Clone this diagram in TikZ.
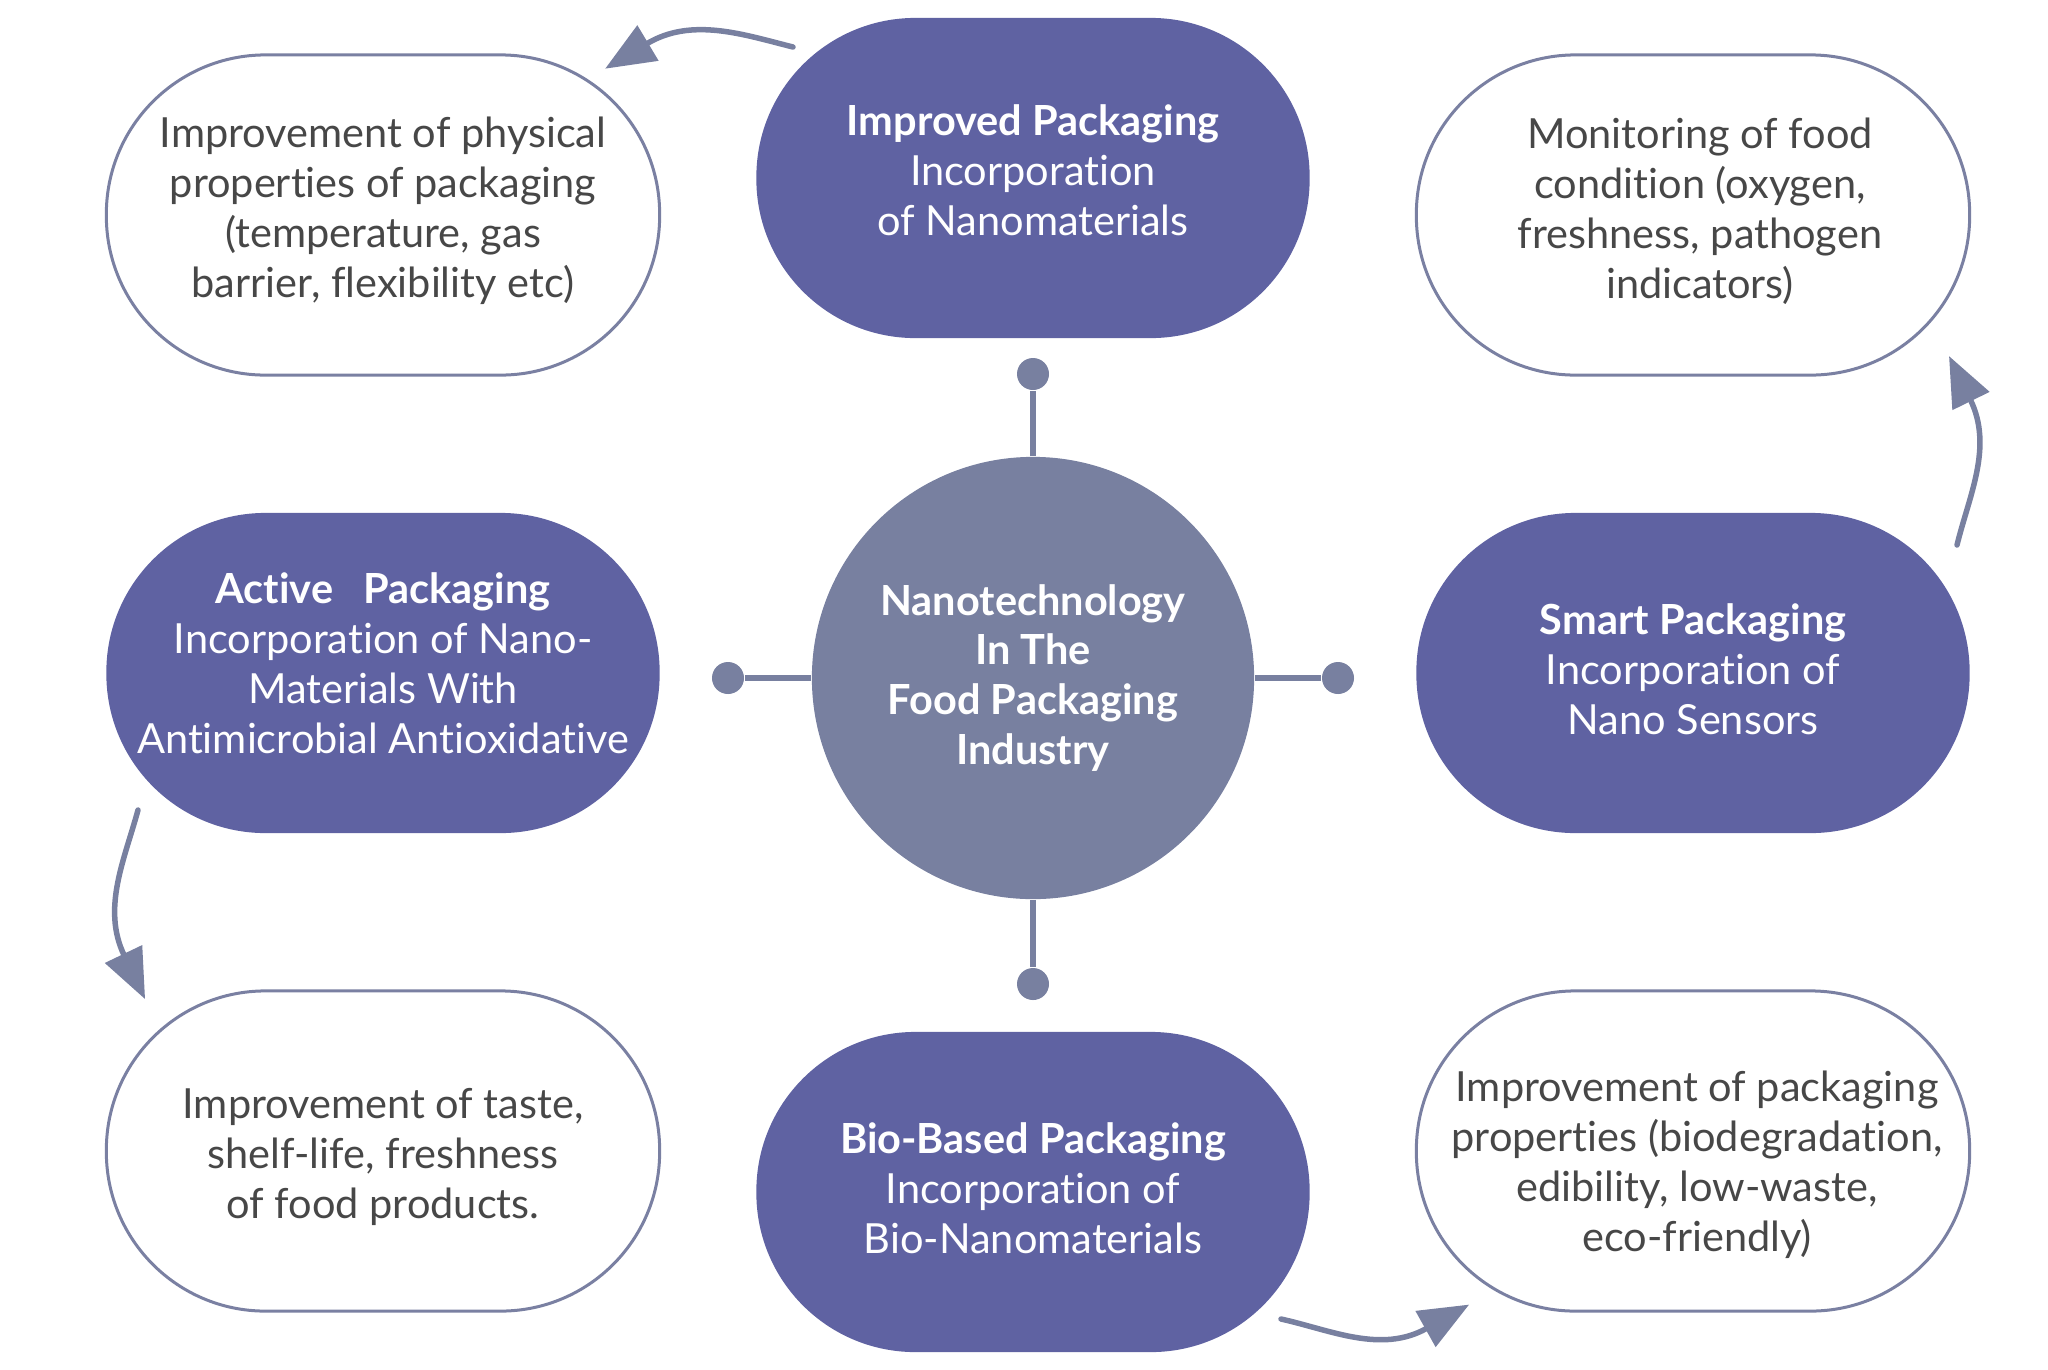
\documentclass[tikz,border=0pt]{standalone}
\usepackage{fontspec}
\setmainfont{Lato}[Ligatures=NoCommon]
\usetikzlibrary{arrows.meta}
\definecolor{boxpurple}{HTML}{5F62A2}
\definecolor{hubgray}{HTML}{7880A0}
\definecolor{edgegray}{HTML}{7A80A2}
\definecolor{txtgray}{HTML}{474747}
\begin{document}
\begin{tikzpicture}[x=0.01cm,y=-0.01cm,
  pill/.style={rounded corners=1.59cm, minimum width=5.53cm, minimum height=3.2cm, align=center, inner sep=0pt},
  fillpill/.style={pill, fill=boxpurple},
  linepill/.style={pill, draw=edgegray, line width=0.03cm},
  filltext/.style={text=white, align=center, font=\fontsize{11.8}{14.2}\selectfont},
  linetext/.style={text=txtgray, align=center, font=\fontsize{11.8}{14.2}\selectfont},
  hub/.style={circle, fill=hubgray, minimum size=4.42cm, inner sep=0pt, align=center, text=white, font=\bfseries\fontsize{11.8}{14.2}\selectfont},
  dot/.style={circle, fill=hubgray, minimum size=0.32cm, inner sep=0pt},
  spoke/.style={draw=hubgray, line width=0.06cm},
  curvarrow/.style={draw=hubgray, line width=0.055cm, line cap=round, shorten >=-0.5cm, -{Triangle[length=0.5cm,width=0.4cm]}}]

\useasboundingbox (0,0) rectangle (2048,1369);

% hub and spokes
\node[hub] (hub) at (1033,678) {Nanotechnology\\In The\\Food Packaging\\Industry};
\node[dot] (dtop) at (1033,374) {};
\node[dot] (dbot) at (1033,984) {};
\node[dot] (dleft) at (728,678) {};
\node[dot] (dright) at (1338,678) {};
\draw[spoke] (hub.north) -- (dtop);
\draw[spoke] (hub.south) -- (dbot);
\draw[spoke] (hub.west) -- (dleft);
\draw[spoke] (hub.east) -- (dright);

% filled boxes
\node[fillpill] (tc) at (1033,178) {};
\node[fillpill] (ml) at (383,673) {};
\node[fillpill] (mr) at (1693,673) {};
\node[fillpill] (bc) at (1033,1192) {};
\node[filltext] (tct) at (1033,170) {\textbf{Improved Packaging}\\Incorporation\\of Nanomaterials};
\node[filltext] (mlt) at (383,663) {\textbf{Active\ \ \ Packaging}\\Incorporation of Nano-\\Materials With\\Antimicrobial Antioxidative};
\node[filltext] (mrt) at (1693,669) {\textbf{Smart Packaging}\\Incorporation of\\Nano Sensors};
\node[filltext] (bct) at (1033,1188) {\textbf{Bio-Based Packaging}\\Incorporation of\\Bio-Nanomaterials};

% outline boxes
\node[linepill] (tl) at (383,215) {};
\node[linepill] (tr) at (1693,215) {};
\node[linepill] (bl) at (383,1151) {};
\node[linepill] (br) at (1693,1151) {};
\node[linetext] (tlt) at (383,211) {Improvement of physical\\properties of packaging\\(temperature, gas\\barrier, flexibility etc)};
\node[linetext] (trt) at (1700,211) {Monitoring of food\\condition (oxygen,\\freshness, pathogen\\indicators)};
\node[linetext] (blt) at (383,1157) {Improvement of taste,\\shelf-life, freshness\\of food products.};
\node[linetext] (brt) at (1697,1165) {Improvement of packaging\\properties (biodegradation,\\edibility, low-waste,\\eco-friendly)};

% curved arrows
\coordinate (a1s) at (793,47);
\coordinate (a1e) at (648,43);
\draw[curvarrow] (a1s) .. controls (743.5,34.6) and (691.7,16.8) .. (a1e);
\coordinate (a2s) at (1957,545);
\coordinate (a2e) at (1971,401);
\draw[curvarrow] (a2s) .. controls (1969.1,495.5) and (1993.4,446.8) .. (a2e);
\coordinate (a3s) at (138,810);
\coordinate (a3e) at (123.5,954);
\draw[curvarrow] (a3s) .. controls (124.7,859.2) and (101.5,908) .. (a3e);
\coordinate (a4s) at (1281,1319);
\coordinate (a4e) at (1425.5,1329);
\draw[curvarrow] (a4s) .. controls (1330.8,1330) and (1381,1353.9) .. (a4e);
\end{tikzpicture}
\end{document}
